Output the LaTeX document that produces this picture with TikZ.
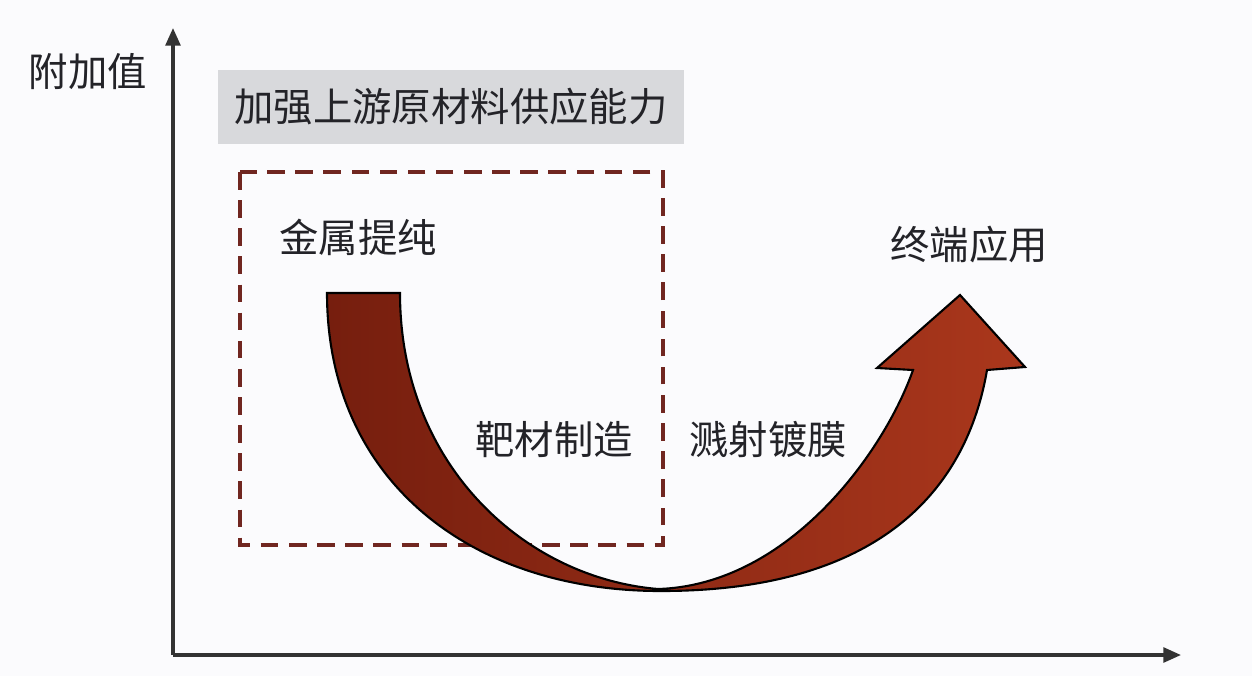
\documentclass[tikz,border=0pt]{standalone}
\usepackage{fontspec}
\usetikzlibrary{arrows.meta}
\newfontfamily\cjk{Noto Sans CJK SC}
\definecolor{paperWhite}{RGB}{251,251,253}
\definecolor{textDark}{RGB}{35,35,40}
\definecolor{boxGray}{RGB}{216,217,220}
\definecolor{dashRed}{RGB}{112,38,32}
\definecolor{arrowDark}{RGB}{118,30,14}
\definecolor{arrowLight}{RGB}{170,55,28}
\newcommand\labelFont{\cjk\fontsize{11.2pt}{13pt}\selectfont}
\tikzset{
	lbl/.style={inner sep=0pt, text=textDark, font=\labelFont},
	axis/.style={line width=0.9pt, draw=black!80, -{Triangle[length=5pt,width=4.2pt]}},
}

\begin{document}
\begin{tikzpicture}[x=0.01cm, y=-0.01cm]
		\fill[paperWhite] (0,0) rectangle (1252,676);
		\useasboundingbox (0,0) rectangle (1252,676);
		
		% axes
		\coordinate (origin) at (173,655);
		\coordinate (ytip) at (173,28);
		\coordinate (xtip) at (1181,655);
		\draw[axis] (origin) -- (ytip);
		\draw[axis] (origin) -- (xtip);
		\node[lbl] (ylabel) at (88,72) {附加值};
		
		% upstream box
		\node[lbl, fill=boxGray, minimum width=4.66cm, minimum height=0.73cm] (upstream) at (451,107) {加强上游原材料供应能力};
		\draw[dashRed, line width=1pt, dash pattern=on 5pt off 3pt] (240,172) rectangle (663,545);
		
		% the swoosh arrow
		\draw[line width=0.6pt, left color=arrowDark, right color=arrowLight]
			(327,293) -- (400,293)
			.. controls (400,465) and (525,578) .. (658,589)
			.. controls (790,585) and (885,450) .. (913,370)
			-- (877,368) -- (960,295) -- (1025,367) -- (987,370)
			.. controls (970,470) and (900,592) .. (658,591)
			.. controls (470,590) and (327,480) .. (327,293) -- cycle;
		
		\node[lbl] (purify) at (358,237) {金属提纯};
		\node[lbl] (enduse) at (969,245) {终端应用};
		\node[lbl] (target) at (554,440) {靶材制造};
		\node[lbl] (sputter) at (768,440) {溅射镀膜};
	\end{tikzpicture}
\end{document}
